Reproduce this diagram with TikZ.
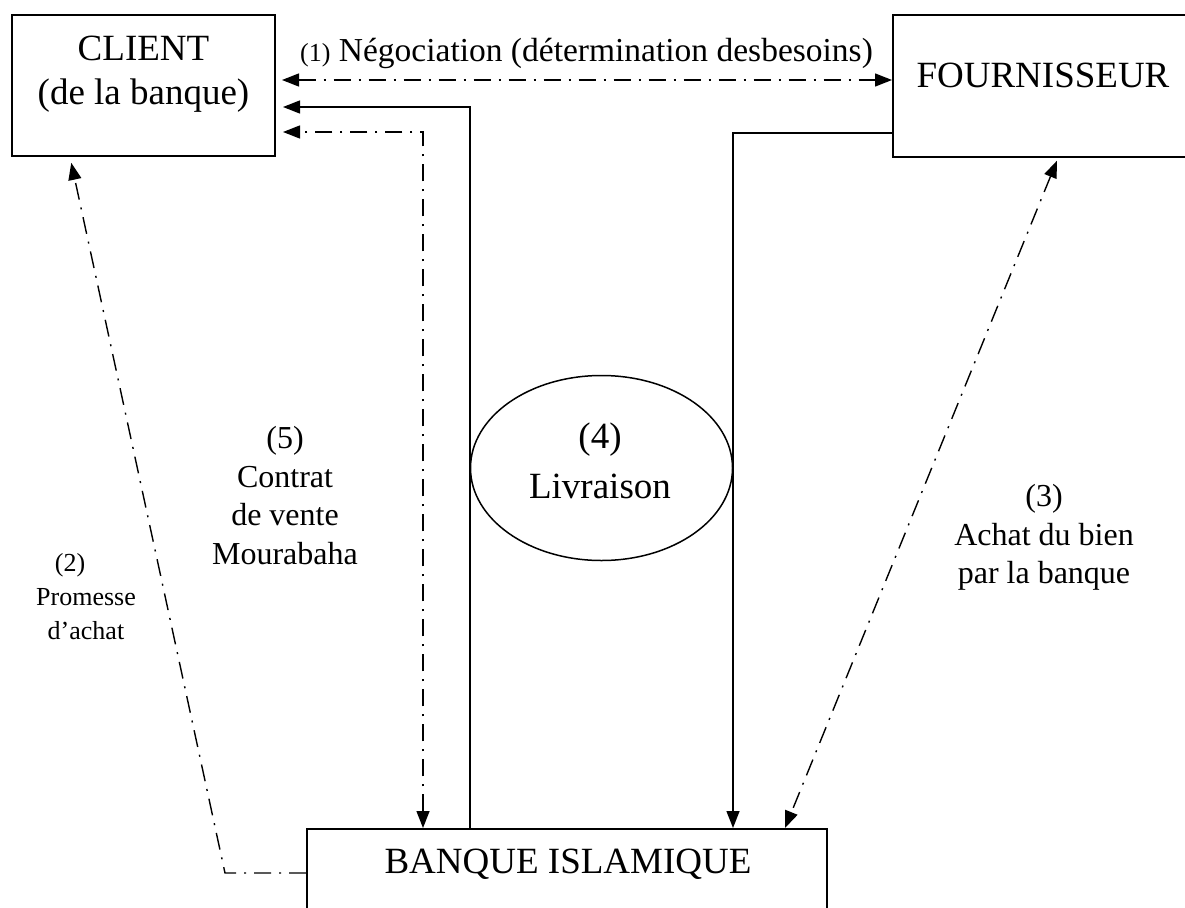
\documentclass[tikz,border=0pt]{standalone}
\usepackage{fontspec}
\setmainfont{Liberation Serif}
\usetikzlibrary{arrows.meta,shapes.geometric}
\begin{document}
\begin{tikzpicture}[x=1pt,y=-1pt,
  boxnode/.style={draw,line width=2pt,inner sep=0pt,rectangle},
  txt/.style={inner sep=0pt,align=center},
  conn/.style={line width=1.4pt},
  dd/.style={conn,dash pattern=on 17pt off 8pt on 2pt off 8pt},
  onearrow/.style={-{Triangle[length=17pt,width=13pt]}},
  twoarrow/.style={{Triangle[length=17pt,width=13pt]}-{Triangle[length=17pt,width=13pt]}},
  fbig/.style={font=\fontsize{37}{44}\selectfont},
  fmid/.style={font=\fontsize{32}{38.5}\selectfont},
]
\useasboundingbox (0,0) rectangle (1185,907);
\clip (0,0) rectangle (1185,907);

% the three parties
\node[boxnode,minimum width=263pt,minimum height=141pt] (client) at (143.5,85.5) {};
\node[txt,fbig,anchor=north] (clienttxt) at (143.5,35.5) {CLIENT\\(de la banque)};
\node[boxnode,minimum width=307pt,minimum height=142pt] (fournisseur) at (1046.5,86) {};
\node[txt,fbig,anchor=base] (fourntxt) at (1043,87) {FOURNISSEUR};
\node[boxnode,minimum width=520pt,minimum height=131pt] (banque) at (567,894.5) {};
\node[txt,fbig,anchor=base] (banquetxt) at (568,873) {BANQUE ISLAMIQUE};

% delivery
\node[draw,ellipse,line width=1.5pt,minimum width=262pt,minimum height=185pt,inner sep=0pt] (livraison) at (601.5,468) {};
\node[txt,font=\fontsize{37}{49.5}\selectfont,anchor=north] (livtxt) at (600,423) {(4)\\Livraison};

% bends of the connectors
\coordinate (yneg) at (0,80);
\coordinate (solidx) at (470,107);
\coordinate (ddx) at (423,132);
\coordinate (fx) at (733,133);
\coordinate (diagtop) at (1058,0);
\coordinate (diagbot) at (785,0);
\coordinate (pb) at (225,873);
\coordinate (px) at (70,0);

% (1) negotiation
\draw[dd,twoarrow,shorten <=6pt] (client.east |- yneg) -- (fournisseur.west |- yneg);
\node[txt,font=\fontsize{33.5}{40}\selectfont,anchor=base west] (nego) at (300,62)
  {{\fontsize{26}{30}\selectfont(1)} Négociation (détermination desbesoins)};

% (4) delivery lines
\draw[conn,onearrow,shorten >=7pt] (banque.north -| solidx) |- (client.east |- solidx);
\draw[conn,onearrow] (fournisseur.west |- fx) -| (banque.north -| fx);

% (5) sale contract
\draw[dd,twoarrow,shorten >=7pt] (banque.north -| ddx) |- (client.east |- ddx);

% (3) purchase by the bank
\draw[dd,twoarrow,shorten <=3pt] (fournisseur.south -| diagtop) -- (banque.north -| diagbot);

% (2) purchase promise
\draw[dd,onearrow,shorten >=6pt] (banque.west |- pb) -- (pb) -- (client.south -| px);

% labels
\node[txt,font=\fontsize{26}{34}\selectfont,anchor=north] (promesse) at (86,553) {(2)\hspace*{32pt}\\Promesse\\d’achat};
\node[txt,fmid,anchor=north] (contrat) at (285,426.4) {(5)\\Contrat\\de vente\\Mourabaha};
\node[txt,fmid,anchor=north] (achat) at (1044,484.4) {(3)\\Achat du bien\\par la banque};
\end{tikzpicture}
\end{document}
